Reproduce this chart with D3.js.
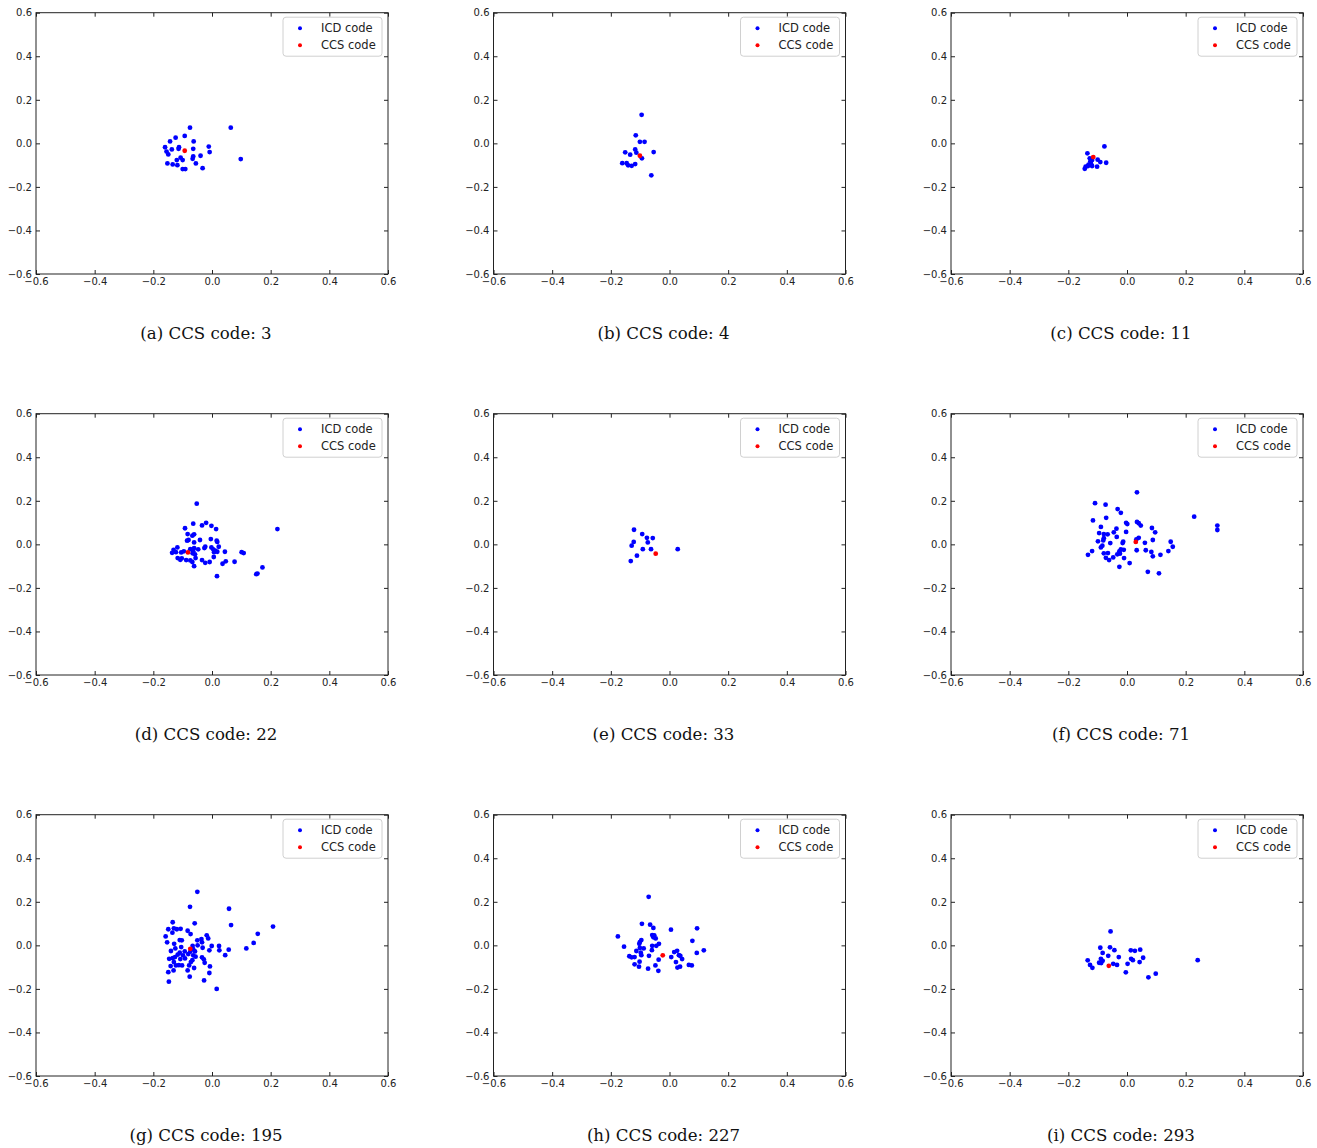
<!DOCTYPE html>
<html>
<head>
<meta charset="utf-8">
<script src="https://cdn.jsdelivr.net/npm/d3@7"></script>
<style>
  body { margin: 0; background: #fff; }
  svg { display: block; }
  .tick text { font-family: "DejaVu Sans", sans-serif; font-size: 10px; fill: #222; }
  .tick line { stroke: #222; }
</style>
</head>
<body>
<div id="chart"></div>
<script>
// tick values shared by every panel
var tickValues = [-0.6, -0.4, -0.2, 0.0, 0.2, 0.4, 0.6];
var panelLetters = ["a", "b", "c", "d", "e", "f", "g", "h", "i"];
var ccsCodes = ["3", "4", "11", "22", "33", "71", "195", "227", "293"];
var legendLabels = ["ICD code", "CCS code"];

// points, [x, y]
var icd3 = [[-0.075,0.072],[0.064,0.072],[0.098,-0.072],[-0.093,0.034],[-0.124,0.026],[-0.143,0.009],
  [-0.0625,0.009],[-0.160,-0.018],[-0.137,-0.028],[-0.1125,-0.018],[-0.114,-0.025],[-0.064,-0.025],
  [-0.011,-0.015],[-0.008,-0.040],[-0.155,-0.038],[-0.149,-0.051],[-0.107,-0.066],[-0.100,-0.077],
  [-0.120,-0.077],[-0.064,-0.060],[-0.066,-0.071],[-0.039,-0.057],[-0.152,-0.092],[-0.134,-0.097],
  [-0.118,-0.100],[-0.055,-0.092],[-0.032,-0.114],[-0.100,-0.118],[-0.091,-0.118]];
var ccs3 = [[-0.093,-0.034]];

var icd4 = [[-0.095,0.131],[-0.115,0.037],[-0.101,0.007],[-0.085,0.007],[-0.054,-0.040],[-0.151,-0.041],
  [-0.134,-0.052],[-0.117,-0.028],[-0.113,-0.043],[-0.094,-0.069],[-0.161,-0.091],[-0.146,-0.091],
  [-0.141,-0.101],[-0.129,-0.103],[-0.117,-0.095],[-0.062,-0.147]];
var ccs4 = [[-0.101,-0.057]];

var icd11 = [[-0.077,-0.014],[-0.135,-0.046],[-0.127,-0.069],[-0.119,-0.077],[-0.100,-0.075],[-0.091,-0.086],
  [-0.071,-0.089],[-0.123,-0.092],[-0.131,-0.098],[-0.141,-0.107],[-0.144,-0.117],[-0.119,-0.104],
  [-0.102,-0.107],[-0.133,-0.104],[-0.125,-0.083]];
var ccs11 = [[-0.115,-0.063]];

var icd22 = [[-0.052,0.187],[0.223,0.070],[-0.064,0.095],[-0.034,0.087],[-0.020,0.099],[-0.002,0.085],
  [0.014,0.070],[-0.092,0.074],[-0.083,0.047],[-0.067,0.040],[-0.061,0.046],[-0.085,0.017],[-0.080,0.020],
  [-0.061,0.009],[-0.041,0.020],[-0.004,0.024],[0.016,0.017],[0.018,0.011],[-0.118,-0.014],[-0.131,-0.025],
  [-0.136,-0.039],[-0.123,-0.036],[-0.105,-0.037],[-0.096,-0.032],[-0.074,-0.022],[-0.061,-0.017],
  [-0.047,-0.023],[-0.026,-0.017],[-0.023,-0.011],[-0.002,-0.014],[0.004,-0.023],[0.011,-0.029],
  [0.023,-0.011],[0.018,-0.034],[0.007,-0.036],[0.044,-0.034],[0.101,-0.036],[0.108,-0.040],
  [-0.066,-0.041],[-0.058,-0.046],[-0.064,-0.032],[-0.117,-0.063],[-0.103,-0.064],[-0.108,-0.071],
  [-0.088,-0.072],[-0.074,-0.074],[-0.067,-0.081],[-0.056,-0.063],[-0.061,-0.100],[-0.034,-0.072],
  [-0.023,-0.085],[-0.008,-0.081],[0.006,-0.058],[0.036,-0.089],[0.047,-0.078],[0.077,-0.080],
  [0.017,-0.146],[0.172,-0.106],[0.151,-0.137],[0.155,-0.134]];
var ccs22 = [[-0.082,-0.037]];

var icd33 = [[-0.121,0.067],[-0.093,0.047],[-0.077,0.030],[-0.057,0.029],[-0.074,0.009],[-0.122,0.011],
  [-0.129,-0.006],[-0.091,-0.022],[-0.063,-0.022],[0.028,-0.022],[-0.111,-0.052],[-0.132,-0.077]];
var ccs33 = [[-0.047,-0.043]];

var icd71 = [[0.034,0.239],[-0.109,0.189],[-0.073,0.182],[0.229,0.127],[0.308,0.086],[0.308,0.066],
  [-0.032,0.162],[-0.021,0.145],[-0.071,0.122],[-0.116,0.110],[-0.003,0.099],[0.001,0.093],[0.034,0.103],
  [0.040,0.097],[0.047,0.086],[-0.089,0.080],[-0.036,0.072],[0.085,0.075],[0.096,0.055],[-0.095,0.052],
  [-0.079,0.047],[-0.066,0.046],[-0.045,0.055],[-0.003,0.057],[-0.079,0.028],[-0.081,0.018],[-0.035,0.034],
  [0.040,0.030],[0.032,0.023],[0.088,0.020],[-0.099,0.014],[-0.057,0.006],[-0.013,0.012],[-0.015,0.006],
  [0.061,0.007],[0.149,0.012],[0.156,-0.011],[0.141,-0.031],[-0.089,-0.014],[-0.084,-0.006],[-0.119,-0.031],
  [-0.133,-0.048],[-0.021,-0.023],[-0.011,-0.025],[-0.026,-0.032],[-0.024,-0.043],[-0.033,-0.046],
  [-0.079,-0.041],[-0.065,-0.040],[0.033,-0.027],[0.064,-0.027],[0.083,-0.035],[0.114,-0.048],
  [0.088,-0.055],[-0.072,-0.062],[-0.061,-0.072],[-0.047,-0.060],[-0.010,-0.063],[0.009,-0.086],
  [-0.026,-0.103],[0.071,-0.126],[0.109,-0.133]];
var ccs71 = [[0.030,0.011]];

var icd195 = [[-0.050,0.246],[-0.075,0.177],[0.058,0.168],[0.208,0.086],[0.065,0.093],[0.156,0.053],
  [0.142,0.011],[0.117,-0.014],[-0.134,0.106],[-0.059,0.101],[-0.149,0.074],[-0.130,0.078],[-0.120,0.074],
  [-0.107,0.076],[-0.083,0.067],[-0.135,0.058],[-0.073,0.052],[-0.158,0.041],[-0.018,0.046],[-0.013,0.032],
  [-0.036,0.029],[-0.050,0.023],[-0.110,0.024],[-0.103,0.023],[-0.153,0.014],[-0.129,0.007],[-0.034,0.014],
  [-0.049,0.000],[-0.032,-0.011],[-0.001,-0.003],[0.024,-0.003],[0.025,-0.023],[0.057,-0.020],[0.045,-0.045],
  [-0.009,-0.023],[-0.105,-0.008],[-0.125,-0.014],[-0.140,-0.026],[-0.066,-0.002],[-0.064,-0.018],
  [-0.058,-0.028],[-0.093,-0.028],[-0.110,-0.034],[-0.117,-0.043],[-0.099,-0.046],[-0.081,-0.040],
  [-0.074,-0.029],[-0.146,-0.062],[-0.134,-0.059],[-0.126,-0.054],[-0.108,-0.063],[-0.092,-0.060],
  [-0.064,-0.046],[-0.056,-0.052],[-0.034,-0.055],[-0.028,-0.064],[-0.067,-0.068],[-0.072,-0.077],
  [-0.025,-0.080],[-0.130,-0.077],[-0.141,-0.095],[-0.123,-0.092],[-0.113,-0.091],[-0.102,-0.092],
  [-0.078,-0.092],[-0.061,-0.104],[-0.007,-0.097],[-0.131,-0.115],[-0.149,-0.123],[-0.083,-0.115],
  [-0.009,-0.127],[-0.076,-0.144],[-0.027,-0.161],[-0.147,-0.167],[0.016,-0.200]];
var ccs195 = [[-0.074,-0.016]];

var icd227 = [[-0.071,0.223],[-0.094,0.099],[-0.066,0.095],[-0.055,0.080],[0.005,0.072],[0.094,0.078],
  [-0.176,0.041],[-0.059,0.047],[-0.052,0.046],[-0.055,0.037],[-0.047,0.032],[-0.096,0.024],[-0.101,0.015],
  [-0.103,0.007],[0.078,0.021],[-0.155,-0.006],[-0.113,-0.026],[-0.101,-0.012],[-0.088,-0.014],
  [-0.059,-0.002],[-0.045,-0.002],[-0.036,0.007],[-0.060,-0.022],[-0.098,-0.034],[-0.096,-0.045],
  [0.016,-0.031],[0.026,-0.025],[0.032,-0.045],[0.093,-0.035],[0.117,-0.023],[-0.137,-0.050],
  [-0.129,-0.055],[-0.119,-0.054],[-0.070,-0.048],[0.006,-0.054],[0.037,-0.049],[0.043,-0.063],
  [-0.037,-0.066],[-0.102,-0.075],[0.022,-0.077],[-0.119,-0.087],[-0.104,-0.098],[-0.048,-0.092],
  [-0.073,-0.107],[-0.038,-0.117],[0.036,-0.098],[0.027,-0.102],[0.066,-0.090],[0.076,-0.092]];
var ccs227 = [[-0.023,-0.046]];

var icd293 = [[-0.056,0.064],[0.241,-0.068],[-0.091,-0.011],[-0.058,-0.009],[-0.043,-0.022],[-0.083,-0.035],
  [-0.064,-0.048],[-0.028,-0.054],[0.013,-0.023],[0.027,-0.025],[0.045,-0.020],[-0.089,-0.062],
  [-0.083,-0.071],[-0.095,-0.080],[-0.088,-0.081],[-0.134,-0.069],[-0.126,-0.090],[-0.118,-0.103],
  [-0.047,-0.085],[-0.034,-0.090],[0.014,-0.062],[0.020,-0.068],[0.055,-0.057],[0.043,-0.077],
  [0.002,-0.085],[-0.004,-0.124],[0.098,-0.130],[0.073,-0.147]];
var ccs293 = [[-0.062,-0.094]];

var icdSets = [icd3, icd4, icd11, icd22, icd33, icd71, icd195, icd227, icd293];
var ccsSets = [ccs3, ccs4, ccs11, ccs22, ccs33, ccs71, ccs195, ccs227, ccs293];

var svgWidth = 1317;
var svgHeight = 1148;

var plotWidth = 352;
var plotHeight = 261.3;
var colStep = 457.5;
var rowStep = 401;
var margin = { left: 36, top: 12.7 };

var svg = d3.select("#chart")
  .append("svg")
  .attr("width", svgWidth)
  .attr("height", svgHeight);

var xScale = d3.scaleLinear().domain([-0.6, 0.6]).range([0, plotWidth]);
var yScale = d3.scaleLinear().domain([-0.6, 0.6]).range([plotHeight, 0]);
var fmt = d3.format(".1f");

panelLetters.forEach(function(letter, i) {
  var col = i % 3;
  var row = Math.floor(i / 3);

  var g = svg.append("g")
    .attr("transform", `translate(${margin.left + col * colStep}, ${margin.top + row * rowStep})`);

  // inward ticks on all four sides
  g.append("g")
    .attr("transform", `translate(0, ${plotHeight})`)
    .call(d3.axisBottom(xScale).tickValues(tickValues).tickFormat(fmt).tickSize(-4).tickPadding(4))
    .call(a => a.select(".domain").remove());

  g.append("g")
    .call(d3.axisLeft(yScale).tickValues(tickValues).tickFormat(fmt).tickSize(-4).tickPadding(4))
    .call(a => a.select(".domain").remove());

  g.append("g")
    .call(d3.axisTop(xScale).tickValues(tickValues).tickFormat("").tickSize(-4))
    .call(a => a.select(".domain").remove());

  g.append("g")
    .attr("transform", `translate(${plotWidth}, 0)`)
    .call(d3.axisRight(yScale).tickValues(tickValues).tickFormat("").tickSize(-4))
    .call(a => a.select(".domain").remove());

  // frame
  g.append("rect")
    .attr("width", plotWidth)
    .attr("height", plotHeight)
    .attr("fill", "none")
    .attr("stroke", "#222")
    .attr("stroke-width", 1);

  // ICD points
  g.append("g").selectAll("circle")
    .data(icdSets[i])
    .enter()
    .append("circle")
    .attr("cx", d => xScale(d[0]))
    .attr("cy", d => yScale(d[1]))
    .attr("r", 2.4)
    .attr("fill", "#0000ff");

  // CCS point
  g.append("g").selectAll("circle")
    .data(ccsSets[i])
    .enter()
    .append("circle")
    .attr("cx", d => xScale(d[0]))
    .attr("cy", d => yScale(d[1]))
    .attr("r", 2.4)
    .attr("fill", "#ff0000");

  // legend
  var legend = g.append("g").attr("transform", "translate(247, 4.5)");
  legend.append("rect")
    .attr("width", 99)
    .attr("height", 39)
    .attr("rx", 3)
    .attr("fill", "#fff")
    .attr("stroke", "#d0d0d0")
    .attr("stroke-width", 1);

  var legendColors = ["#0000ff", "#ff0000"];
  legendLabels.forEach(function(label, k) {
    legend.append("circle")
      .attr("cx", 17)
      .attr("cy", 11 + k * 17)
      .attr("r", 2)
      .attr("fill", legendColors[k]);
    legend.append("text")
      .attr("x", 38)
      .attr("y", 11 + k * 17)
      .attr("dy", "0.36em")
      .attr("font-family", "DejaVu Sans, sans-serif")
      .attr("font-size", "11.5px")
      .attr("fill", "#222")
      .text(label);
  });

  // caption under the panel
  g.append("text")
    .attr("x", plotWidth / 2 - 6)
    .attr("y", 326.5)
    .attr("text-anchor", "middle")
    .attr("font-family", "DejaVu Serif, serif")
    .attr("font-size", "16.6px")
    .attr("fill", "#111")
    .text(`(${letter}) CCS code: ${ccsCodes[i]}`);
});
</script>
</body>
</html>
